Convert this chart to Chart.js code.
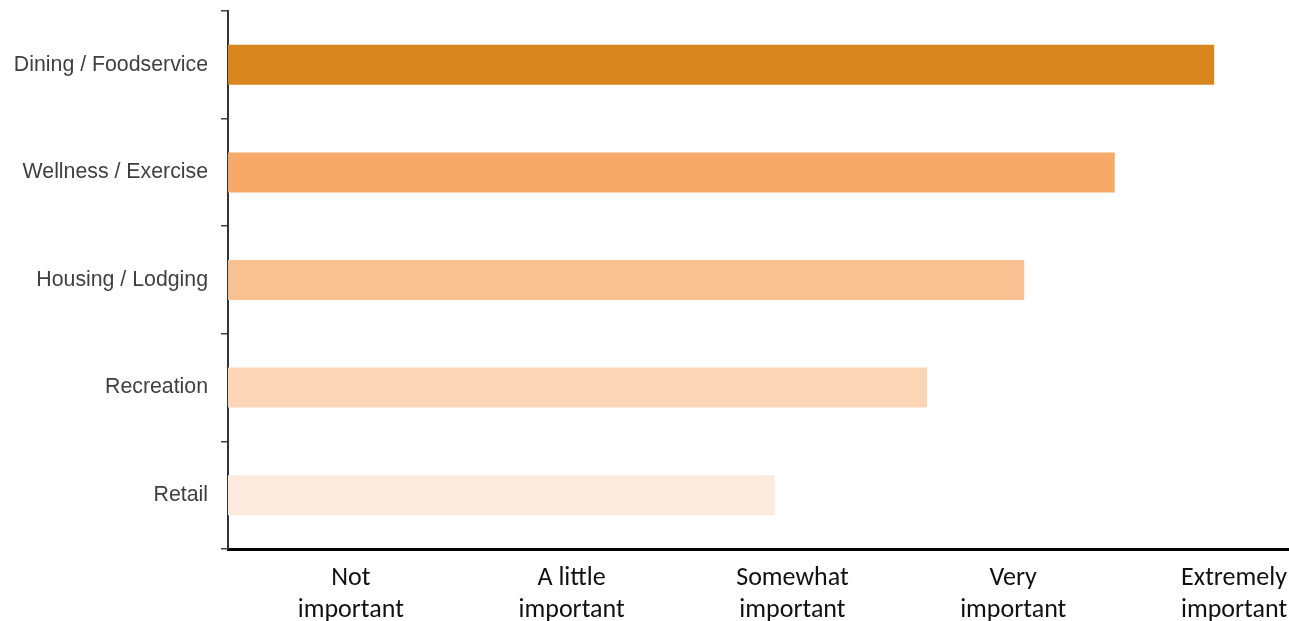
<!DOCTYPE html>
<html>
<head>
<meta charset="utf-8">
<title>Importance by amenity</title>
<script src="https://cdn.jsdelivr.net/npm/chart.js@4/dist/chart.umd.min.js"></script>
<style>
  html, body { margin: 0; padding: 0; background: #fff; }
  #wrap { width: 1289px; height: 621px; }
</style>
</head>
<body>
<div id="wrap"><canvas id="chart"></canvas></div>
<script>
const categories = [
  "Dining / Foodservice",
  "Wellness / Exercise",
  "Housing / Lodging",
  "Recreation",
  "Retail"
];

// mean importance score, 1 = not important ... 5 = extremely important
const scores = [4.91, 4.46, 4.05, 3.61, 2.92];

const barColors = ["#d9861f", "#f7a96a", "#f9c192", "#fbd5b5", "#fceadc"];

const scaleValues = [1, 2, 3, 4, 5];
const scaleLabels = [
  ["Not", "important"],
  ["A little", "important"],
  ["Somewhat", "important"],
  ["Very", "important"],
  ["Extremely", "important"]
];

const yFont = { family: "'Liberation Sans', Arial, sans-serif", size: 21.3 };
const xFont = { family: "Carlito, Lato, sans-serif", size: 26, lineHeight: 1.22 };

new Chart(document.getElementById("chart"), {
  type: "bar",
  data: {
    labels: categories,
    datasets: [{
      data: scores,
      backgroundColor: barColors,
      borderWidth: 0,
      barPercentage: 0.372,
      categoryPercentage: 1.0
    }]
  },
  options: {
    indexAxis: "y",
    responsive: true,
    maintainAspectRatio: false,
    animation: false,
    layout: { padding: { top: 11, left: 0, right: 0, bottom: 0 } },
    plugins: {
      legend: { display: false },
      tooltip: { enabled: false }
    },
    scales: {
      x: {
        type: "linear",
        min: 0.444,
        max: 5.249,
        afterBuildTicks: (scale) => {
          scale.ticks = scaleValues.map((v) => ({ value: v }));
        },
        afterFit: (scale) => {
          // axis line runs to the right edge; labels may overhang
          scale.height = 72;
          scale.paddingLeft = 0;
          scale.paddingRight = 0;
        },
        grid: { display: false, drawTicks: false },
        border: { display: true, color: "#000", width: 3 },
        ticks: {
          autoSkip: false,
          maxRotation: 0,
          padding: 14,
          color: "#111",
          font: xFont,
          callback: (value) => scaleLabels[scaleValues.indexOf(value)] ?? ""
        }
      },
      y: {
        z: 1,
        afterFit: (scale) => {
          scale.width = 228;
          scale.paddingTop = 0;
          scale.paddingBottom = 0;
        },
        grid: {
          display: true,
          drawOnChartArea: false,
          drawTicks: true,
          tickLength: 7,
          lineWidth: 1.5,
          color: "#404040",
          offset: true
        },
        border: { display: true, color: "#333", width: 2 },
        ticks: {
          padding: 13,
          color: "#404040",
          font: yFont
        }
      }
    }
  }
});
</script>
</body>
</html>
